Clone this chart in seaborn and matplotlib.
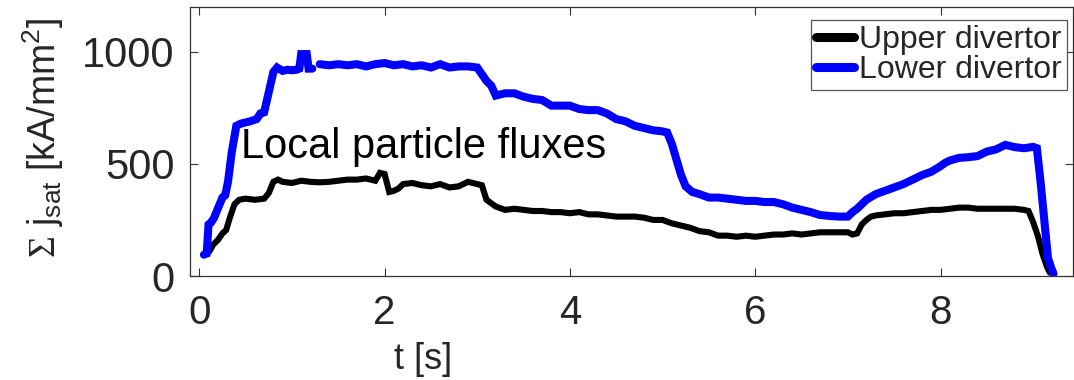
import matplotlib
matplotlib.use("Agg")
import matplotlib.pyplot as plt
import seaborn as sns
import pandas as pd
import numpy as np

# ---- data ----
upper_t = [0.11, 0.15, 0.20, 0.25, 0.29, 0.33, 0.38, 0.43, 0.50, 0.60, 0.70, 0.75, 0.80, 0.85, 0.90,
           1.00, 1.10, 1.20, 1.30, 1.40, 1.50, 1.60, 1.70, 1.80, 1.90, 1.95, 2.00, 2.05, 2.10, 2.15,
           2.20, 2.30, 2.40, 2.50, 2.60, 2.70, 2.80, 2.90, 3.00, 3.05, 3.10, 3.20, 3.30, 3.40, 3.50,
           3.60, 3.70, 3.80, 3.90, 4.00, 4.10, 4.20, 4.30, 4.40, 4.50, 4.60, 4.70, 4.80, 4.90, 5.00,
           5.10, 5.20, 5.30, 5.40, 5.50, 5.60, 5.70, 5.80, 5.90, 6.00, 6.10, 6.20, 6.30, 6.40, 6.50,
           6.60, 6.70, 6.80, 6.90, 7.00, 7.05, 7.10, 7.15, 7.20, 7.25, 7.30, 7.40, 7.50, 7.60, 7.70,
           7.80, 7.90, 8.00, 8.10, 8.20, 8.30, 8.40, 8.50, 8.60, 8.70, 8.80, 8.90, 8.95, 9.00, 9.05,
           9.10, 9.15, 9.18]
upper_v = [110, 140, 160, 190, 205, 260, 320, 340, 345, 340, 345, 370, 420, 430, 420,
           415, 425, 420, 418, 420, 425, 430, 430, 435, 425, 460, 455, 375, 380, 390,
           410, 415, 405, 400, 410, 395, 400, 420, 410, 405, 340, 310, 295, 300, 295,
           290, 290, 285, 285, 280, 285, 275, 275, 270, 265, 265, 265, 260, 250, 250,
           235, 225, 215, 200, 195, 180, 180, 175, 180, 175, 180, 185, 185, 190, 185,
           190, 195, 195, 195, 195, 185, 190, 230, 250, 265, 270, 275, 280, 280, 285,
           290, 295, 295, 300, 305, 305, 300, 300, 300, 300, 300, 295, 290, 240, 180,
           100, 40, 15]

lower1_t = [0.05, 0.08, 0.10, 0.13, 0.16, 0.20, 0.25, 0.28, 0.31, 0.35, 0.40, 0.45, 0.50, 0.55,
            0.62, 0.66, 0.70, 0.75, 0.80, 0.84, 0.90, 0.95, 1.00, 1.05, 1.08, 1.10, 1.16, 1.18, 1.22]
lower1_v = [95, 100, 230, 240, 260, 300, 350, 360, 420, 550, 670, 680, 685, 690,
            700, 725, 730, 820, 910, 930, 915, 920, 918, 920, 925, 990, 990, 925, 925]

lower2_t = [1.30, 1.40, 1.50, 1.60, 1.70, 1.80, 1.90, 2.00, 2.10, 2.20, 2.30, 2.40, 2.50, 2.60,
            2.70, 2.80, 2.90, 3.00, 3.05, 3.10, 3.15, 3.20, 3.30, 3.40, 3.50, 3.60, 3.70, 3.80,
            3.90, 4.00, 4.10, 4.20, 4.30, 4.40, 4.50, 4.60, 4.70, 4.80, 4.90, 5.00, 5.05, 5.10,
            5.15, 5.20, 5.25, 5.32, 5.40, 5.50, 5.60, 5.70, 5.80, 5.90, 6.00, 6.10, 6.20, 6.30,
            6.40, 6.50, 6.60, 6.70, 6.80, 6.90, 7.00, 7.05, 7.10, 7.20, 7.30, 7.40, 7.50, 7.60,
            7.70, 7.80, 7.90, 8.00, 8.05, 8.10, 8.20, 8.30, 8.40, 8.50, 8.60, 8.70, 8.80, 8.90,
            9.00, 9.04, 9.08, 9.12, 9.16, 9.20, 9.22]
lower2_v = [945, 940, 945, 940, 945, 935, 945, 950, 940, 945, 935, 940, 930, 945,
            930, 935, 935, 930, 900, 870, 850, 805, 815, 815, 800, 790, 785, 760,
            760, 760, 745, 740, 740, 725, 700, 690, 670, 660, 650, 645, 640, 590,
            520, 450, 400, 375, 365, 350, 350, 345, 340, 335, 335, 330, 330, 320,
            305, 295, 285, 272, 268, 265, 265, 285, 300, 340, 365, 380, 395, 410,
            430, 450, 465, 490, 505, 515, 527, 530, 535, 555, 565, 585, 575, 570,
            576, 570, 420, 250, 80, 30, 10]

x_ticks = [0, 2, 4, 6, 8]
y_ticks = [0, 500, 1000]

# ---- style ----
sns.set_style("ticks")
plt.rcParams["font.family"] = ["Liberation Sans", "DejaVu Sans"]
plt.rcParams["mathtext.fontset"] = "custom"
plt.rcParams["mathtext.rm"] = "Liberation Serif"
plt.rcParams["mathtext.sf"] = "Liberation Sans"
plt.rcParams["mathtext.it"] = "Liberation Sans:italic"
plt.rcParams["mathtext.bf"] = "Liberation Sans:bold"

fig = plt.figure(figsize=(10.74, 3.80), dpi=100)
ax = fig.add_axes([190 / 1074, 104 / 380, 883 / 1074, 269 / 380])

up = pd.DataFrame({"t": upper_t, "v": upper_v})
lo1 = pd.DataFrame({"t": lower1_t, "v": lower1_v})
lo2 = pd.DataFrame({"t": lower2_t, "v": lower2_v})

sns.lineplot(data=up, x="t", y="v", ax=ax, color="black", linewidth=4.4,
             label="Upper divertor", sort=False, solid_joinstyle="miter")
sns.lineplot(data=lo1, x="t", y="v", ax=ax, color="#0000ff", linewidth=5.8,
             label="Lower divertor", sort=False, solid_joinstyle="miter")
sns.lineplot(data=lo2, x="t", y="v", ax=ax, color="#0000ff", linewidth=5.8,
             sort=False, solid_joinstyle="miter")

ax.set_xlim(-0.1, 9.43)
ax.set_ylim(0, 1200)
ax.set_xticks(x_ticks)
ax.set_yticks(y_ticks)
ax.tick_params(axis="both", which="both", direction="in", length=6, width=0.8,
               color="#333333", top=True, right=True, labelcolor="#262626")
ax.tick_params(axis="y", labelsize=30, pad=11)
ax.tick_params(axis="x", labelsize=29, pad=13)
for s in ax.spines.values():
    s.set_visible(True)
    s.set_color("#333333")
    s.set_linewidth(0.9)

ax.set_xlabel("t [s]", fontsize=26, color="#262626")
ax.set_ylabel(r"$\mathrm{\Sigma}$ j$_{\mathsf{sat}}$ [kA/mm$^{\mathsf{2}}$]", fontsize=27,
              color="#262626")
ax.xaxis.set_label_coords(0.264, -0.245)
ax.yaxis.set_label_coords(-0.14, 0.515)

ax.text(0.45, 527, "Local particle fluxes", fontsize=30, color="black",
        ha="left", va="baseline")

handles = ax.get_lines()[:2]
leg = ax.legend(handles=handles, labels=["Upper divertor", "Lower divertor"],
                loc="upper right", bbox_to_anchor=(0.993, 0.952), borderaxespad=0,
                fontsize=23, frameon=True, fancybox=False, framealpha=1,
                edgecolor="#555555", handlelength=1.2, handletextpad=0.15,
                labelspacing=0.02, borderpad=0.15)
leg.get_frame().set_linewidth(0.9)
for h in leg.get_lines():
    h.set_linewidth(6.5)

fig.savefig("out.png", dpi=100)
